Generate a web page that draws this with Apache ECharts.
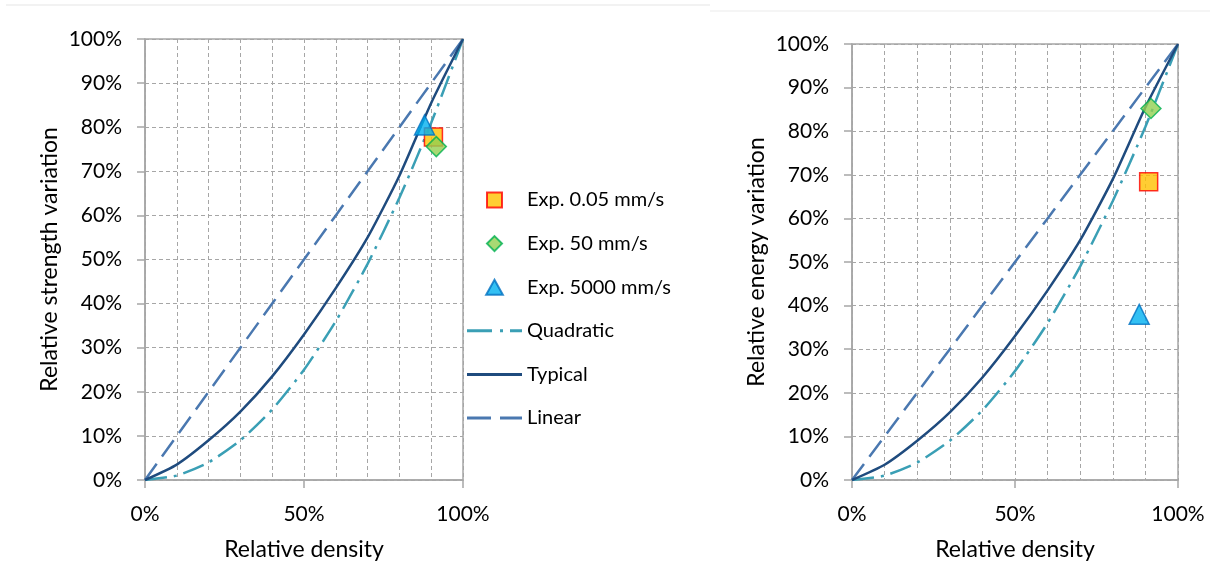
<!DOCTYPE html>
<html>
<head>
<meta charset="utf-8">
<script src="https://cdn.jsdelivr.net/npm/echarts@6/dist/echarts.min.js"></script>
<style>html,body{margin:0;padding:0;background:#fff;}#c{width:1216px;height:566px;}</style>
</head>
<body>
<div id="c"></div>
<script>
const densities = [0, 0.1, 0.2, 0.3, 0.4, 0.5, 0.6, 0.7, 0.8, 0.9, 1.0];
const linearVals = [0, 0.1, 0.2, 0.3, 0.4, 0.5, 0.6, 0.7, 0.8, 0.9, 1.0];
const quadraticVals = [0, 0.01, 0.04, 0.09, 0.16, 0.25, 0.36, 0.49, 0.64, 0.81, 1.0];
const typicalVals = [0, 0.035, 0.09, 0.155, 0.235, 0.33, 0.435, 0.55, 0.69, 0.855, 1.0];

const strengthExp005 = [[0.907, 0.778]];
const strengthExp50 = [[0.916, 0.756]];
const strengthExp5000 = [[0.879, 0.805]];
const energyExp005 = [[0.91, 0.684]];
const energyExp50 = [[0.917, 0.852]];
const energyExp5000 = [[0.881, 0.38]];

const xTickLabels = {0: '0%', 0.5: '50%', 1: '100%'};
const seriesNames = ['Exp. 0.05 mm/s', 'Exp. 50 mm/s', 'Exp. 5000 mm/s', 'Quadratic', 'Typical', 'Linear'];
const yAxisNames = ['Relative strength variation', 'Relative energy variation'];
const xAxisName = 'Relative density';

const FONT = 'Lato, "Open Sans", sans-serif';
const TXT = '#000';
const AXC = '#a6a6a6';
const C_QUAD = '#3a9fb5', C_TYP = '#1f4b7e', C_LIN = '#4a78b0';

function pair(a, b) { return a.map((v, i) => [v, b[i]]); }

function xAxis(gi) {
  return {
    type: 'value', gridIndex: gi, min: 0, max: 1, interval: 0.5,
    name: xAxisName, nameLocation: 'middle', nameGap: 58,
    nameTextStyle: {fontFamily: FONT, fontSize: 23, color: TXT},
    axisLine: {show: true, onZero: false, lineStyle: {color: AXC, width: 1.5}},
    axisTick: {show: true, length: 8, lineStyle: {color: AXC, width: 1.5}},
    axisLabel: {fontFamily: FONT, fontSize: 21, color: TXT, margin: 24,
      formatter: v => xTickLabels[Math.round(v * 10) / 10] || ''},
    splitLine: {show: true, lineStyle: {color: AXC, type: [4, 3], width: 1}},
    minorTick: {show: false, splitNumber: 5},
    minorSplitLine: {show: true, lineStyle: {color: AXC, type: [4, 3], width: 1}}
  };
}
function yAxis(gi) {
  return {
    type: 'value', gridIndex: gi, min: 0, max: 1, interval: 0.1,
    name: yAxisNames[gi], nameLocation: 'middle', nameGap: 84,
    nameTextStyle: {fontFamily: FONT, fontSize: 23, color: TXT},
    axisLine: {show: true, onZero: false, lineStyle: {color: AXC, width: 1.5}},
    axisTick: {show: true, length: 8, lineStyle: {color: AXC, width: 1.5}},
    axisLabel: {fontFamily: FONT, fontSize: 21, color: TXT, margin: 23,
      formatter: v => Math.round(v * 100) + '%'},
    splitLine: {show: true, lineStyle: {color: AXC, type: [4, 3], width: 1}}
  };
}

function seriesFor(gi, sq, dia, tri) {
  return [
    {name: seriesNames[3], type: 'line', xAxisIndex: gi, yAxisIndex: gi, data: pair(densities, quadraticVals),
      showSymbol: false, symbol: 'none', z: 2, smooth: 0.2,
      lineStyle: {color: C_QUAD, width: 2.5, type: [22, 7, 3, 7]}, itemStyle: {color: C_QUAD}},
    {name: seriesNames[4], type: 'line', xAxisIndex: gi, yAxisIndex: gi, data: pair(densities, typicalVals),
      showSymbol: false, symbol: 'none', z: 3, smooth: 0.2,
      lineStyle: {color: C_TYP, width: 2.5, type: 'solid'}, itemStyle: {color: C_TYP}},
    {name: seriesNames[5], type: 'line', xAxisIndex: gi, yAxisIndex: gi, data: pair(densities, linearVals),
      showSymbol: false, symbol: 'none', z: 2,
      lineStyle: {color: C_LIN, width: 2.5, type: [20, 9]}, itemStyle: {color: C_LIN}},
    {name: seriesNames[0], type: 'scatter', xAxisIndex: gi, yAxisIndex: gi, data: sq, symbol: 'rect', symbolSize: 18, z: 5,
      itemStyle: {color: '#ffc000', borderColor: '#ff0000', borderWidth: 1.5}},
    {name: seriesNames[1], type: 'scatter', xAxisIndex: gi, yAxisIndex: gi, data: dia, symbol: 'diamond', symbolSize: 20, z: 6,
      itemStyle: {color: '#92d050', borderColor: '#00b050', borderWidth: 1.5}},
    {name: seriesNames[2], type: 'scatter', xAxisIndex: gi, yAxisIndex: gi, data: tri, symbol: 'triangle', symbolSize: 20, z: 7,
      itemStyle: {color: '#00b0f0', borderColor: '#0070c0', borderWidth: 1.5}}
  ];
}

const legendIcons = [
  'path://M0,0L10,0L10,10L0,10Z',
  'path://M5,0L10,5L5,10L0,5Z',
  'path://M5,0L10,9L0,9Z',
  'path://M0,0L25,0L25,3L0,3Z M33,0L36,0L36,3L33,3Z M43,0L55,0L55,3L43,3Z',
  'path://M0,0L55,0L55,3L0,3Z',
  'path://M0,0L24,0L24,3L0,3Z M33,0L55,0L55,3L33,3Z'
];
const legendColors = [null, null, null, C_QUAD, C_TYP, C_LIN];

const chart = echarts.init(document.getElementById('c'), null, {renderer: 'canvas'});
chart.setOption({
  backgroundColor: '#fff',
  animation: false,
  graphic: [
    {type: 'line', shape: {x1: 6, y1: 5, x2: 710, y2: 5}, style: {stroke: '#eeeeee', lineWidth: 1.5}},
    {type: 'line', shape: {x1: 710, y1: 11, x2: 1210, y2: 11}, style: {stroke: '#f2f2f2', lineWidth: 1.5}}
  ],
  grid: [
    {left: 145, top: 39, width: 318, height: 442, show: true, borderColor: AXC, borderWidth: 1.5, backgroundColor: 'transparent'},
    {left: 852, top: 44, width: 326, height: 438, show: true, borderColor: AXC, borderWidth: 1.5, backgroundColor: 'transparent'}
  ],
  legend: {
    orient: 'vertical', left: 467, top: 189, itemWidth: 55, itemHeight: 15, itemGap: 21.6, padding: 0,
    symbolKeepAspect: true,
    data: seriesNames.map((n, i) => {
      const d = {name: n, icon: legendIcons[i]};
      if (legendColors[i]) d.itemStyle = {color: legendColors[i], borderWidth: 0};
      return d;
    }),
    textStyle: {fontFamily: FONT, fontSize: 20, color: TXT, lineHeight: 22, padding: [0, 0, 0, 0]},
    inactiveColor: '#ccc'
  },
  xAxis: [xAxis(0), xAxis(1)],
  yAxis: [yAxis(0), yAxis(1)],
  series: seriesFor(0, strengthExp005, strengthExp50, strengthExp5000)
    .concat(seriesFor(1, energyExp005, energyExp50, energyExp5000))
});
</script>
</body>
</html>
